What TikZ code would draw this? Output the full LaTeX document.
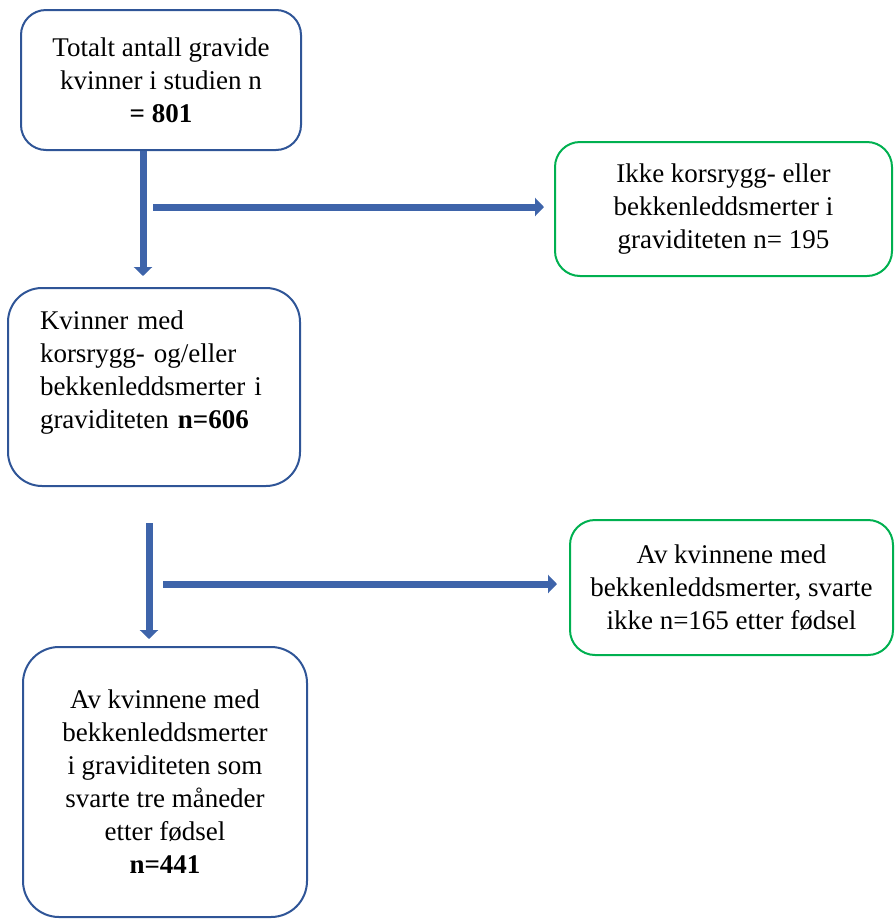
\documentclass[tikz,border=0pt]{standalone}
\usepackage{fontspec}
\setmainfont{Liberation Serif}
\usepackage{tikz}
\usetikzlibrary{positioning,arrows.meta}
\definecolor{boxblue}{RGB}{47,85,151}
\definecolor{boxgreen}{RGB}{0,176,80}
\definecolor{arrowblue}{RGB}{62,100,170}

\begin{document}
\begin{tikzpicture}[x=1pt,y=-1pt,
    font=\fontsize{27}{33}\selectfont,
    mainbox/.style={draw=boxblue,line width=2pt,rounded corners=25pt,align=center,inner sep=0pt},
    sidebox/.style={draw=boxgreen,line width=2pt,rounded corners=25pt,align=center,inner sep=0pt},
    flow/.style={draw=arrowblue,line width=7pt,-{Triangle[width=18pt,length=9pt]}}]
  \useasboundingbox (0,0) rectangle (895,919);
  % main column
  \node[mainbox,minimum width=280pt,minimum height=140pt] (total) at (161,80)
    {Totalt antall gravide\\kvinner i studien n\\\textbf{= 801}};
  \node[mainbox,rounded corners=34pt,minimum width=292pt,minimum height=198pt,text width=228pt,align=left] (kvinner) at (154,387)
    {Kvinner med\\korsrygg- og/eller\\bekkenleddsmerter i\\graviditeten \textbf{n=606}\\[-8pt]\strut};
  \node[mainbox,rounded corners=36pt,minimum width=284pt,minimum height=270pt] (svarte) at (165,782)
    {Av kvinnene med\\bekkenleddsmerter\\i graviditeten som\\svarte tre måneder\\etter fødsel\\\textbf{n=441}};
  % excluded
  \node[sidebox,minimum width=337pt,minimum height=134pt] (ikke) at (723.5,209)
    {Ikke korsrygg- eller\\bekkenleddsmerter i\\graviditeten n= 195};
  \node[sidebox,minimum width=323pt,minimum height=135pt] (frafall) at (731.5,587.5)
    {Av kvinnene med\\bekkenleddsmerter, svarte\\ikke n=165 etter fødsel};
  % arrows
  \coordinate (b1) at (153,207);
  \coordinate (b2) at (149,523);
  \coordinate (b3) at (163,584);
  \draw[flow] ([xshift=-18pt]total.south) -- ([xshift=-11pt,yshift=11pt]kvinner.north);
  \draw[flow] (b1) -- ([xshift=-10pt,yshift=2pt]ikke.west);
  \draw[flow] (b2) -- ([xshift=-16pt,yshift=7pt]svarte.north);
  \draw[flow] (b3) -- ([xshift=-12pt,yshift=3.5pt]frafall.west);
\end{tikzpicture}
\end{document}
